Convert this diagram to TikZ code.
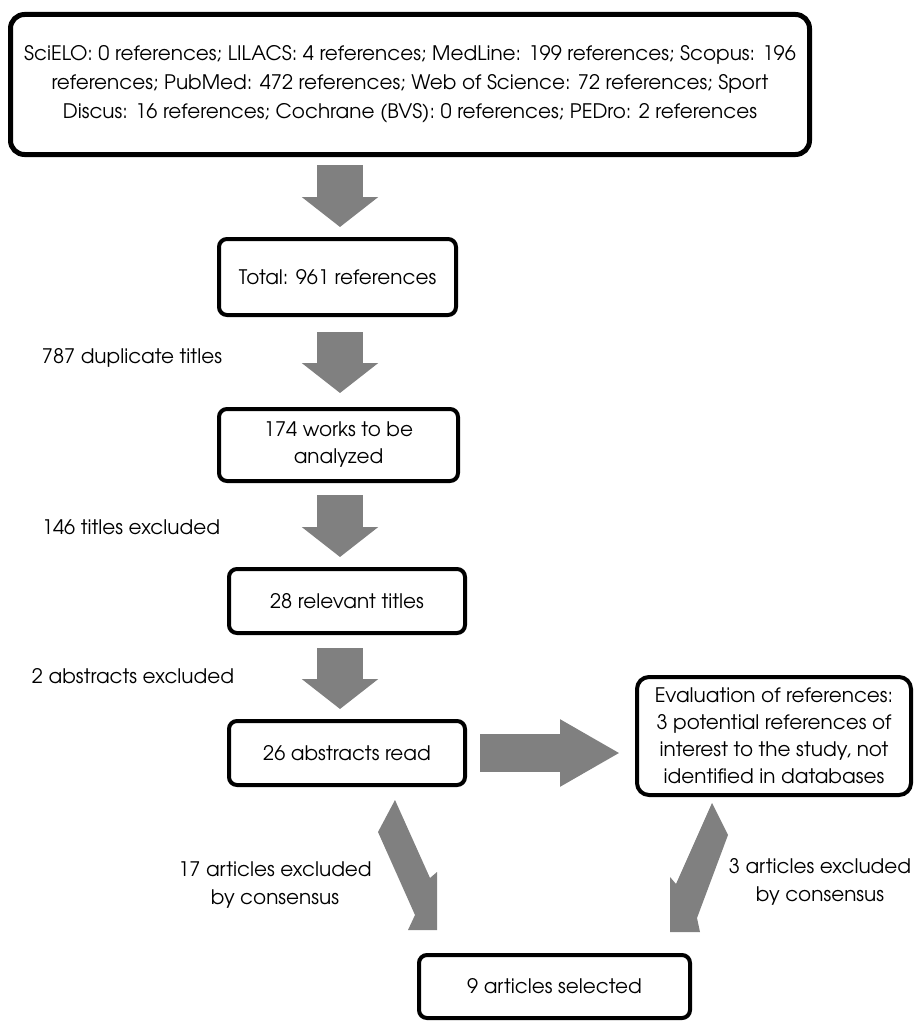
\documentclass[tikz,border=0pt]{standalone}
\usepackage{fontspec}
\setmainfont{TeX Gyre Adventor}
\usetikzlibrary{arrows.meta,calc}
\definecolor{arrowgray}{RGB}{128,128,128}
\begin{document}
\begin{tikzpicture}[x=1pt,y=-1pt,
  box/.style={draw, line width=4pt, rounded corners=8pt, align=center, inner sep=0pt,
    font=\fontsize{20}{27}\selectfont},
  lbl/.style={align=center, inner sep=0pt, font=\fontsize{20}{28}\selectfont},
  varrow/.style={arrowgray, line width=46pt, -{Triangle[length=30pt,width=75pt]}},
  harrow/.style={arrowgray, line width=38pt, -{Triangle[length=60pt,width=63pt]}},
  diagarrow/.style={fill=arrowgray, draw=none}
]
\useasboundingbox (0,0) rectangle (915,1022);

\node[box, line width=5pt, rounded corners=14pt, minimum width=799pt, minimum height=140pt,
  font=\fontsize{20}{29}\selectfont] (top) at (410,84.5)
  {SciELO: 0 references; LILACS: 4 references; MedLine: 199 references; Scopus: 196\\
   references; PubMed: 472 references; Web of Science: 72 references; Sport\\
   Discus: 16 references; Cochrane (BVS): 0 references; PEDro: 2 references};

\node[box, minimum width=237pt, minimum height=76pt] (total) at (337.5,277) {Total: 961 references};
\node[box, minimum width=239pt, minimum height=72pt] (works) at (338.5,445) {174 works to be\\analyzed};
\node[box, minimum width=236pt, minimum height=64pt] (relevant) at (347,601) {28 relevant titles};
\node[box, minimum width=236pt, minimum height=64pt] (abstracts) at (347,753) {26 abstracts read};
\node[box, rounded corners=12pt, minimum width=274pt, minimum height=118pt] (eval) at (774,736)
  {Evaluation of references:\\3 potential references of\\interest to the study, not\\identified in databases};
\node[box, minimum width=271pt, minimum height=63pt] (selected) at (554.5,986.5) {9 articles selected};

\node[lbl] (l787) at (132,358) {787 duplicate titles};
\node[lbl] (l146) at (131,527) {146 titles excluded};
\node[lbl] (l2) at (133,676) {2 abstracts excluded};
\node[lbl] (l17) at (275,885) {17 articles excluded\\by consensus};
\node[lbl] (l3) at (820,882) {3 articles excluded\\by consensus};

\coordinate (ax) at (340,0);
\draw[varrow, shorten <=8pt, shorten >=10pt] (ax |- top.south) -- (ax |- total.north);
\draw[varrow, shorten <=15pt, shorten >=14pt] (ax |- total.south) -- (ax |- works.north);
\draw[varrow, shorten <=12pt, shorten >=10pt] (ax |- works.south) -- (ax |- relevant.north);
\draw[varrow, shorten <=13pt, shorten >=10pt] (ax |- relevant.south) -- (ax |- abstracts.north);
\draw[harrow, shorten <=13pt, shorten >=15pt] (abstracts.east) -- (abstracts.east -| eval.west);

\fill[diagarrow] (395,800) -- (430,878) -- (437,872) -- (437,930) -- (408,930) -- (415,915) -- (378,832) -- cycle;
\fill[diagarrow] (712,803) -- (728,835) -- (697,918) -- (700,932) -- (670,932) -- (670,877) -- (676,884) -- cycle;
\end{tikzpicture}
\end{document}
